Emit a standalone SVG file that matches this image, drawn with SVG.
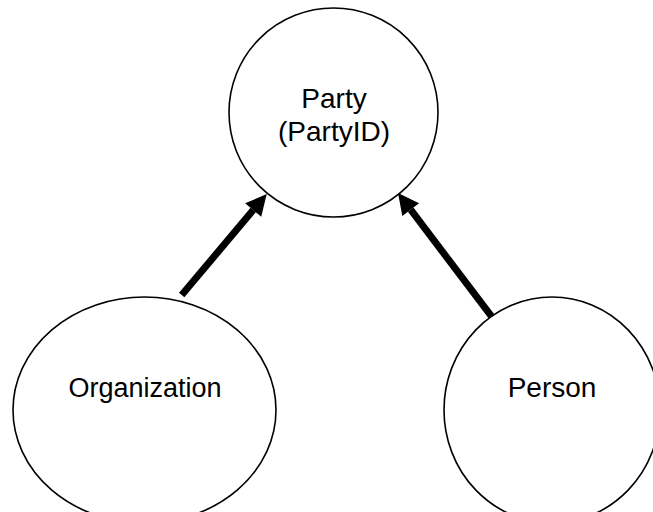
<svg xmlns="http://www.w3.org/2000/svg" width="653" height="512" viewBox="0 0 653 512">
  <style>
    .shape { fill: #ffffff; stroke: #000000; stroke-width: 1.6; }
    .label { font-family: "Liberation Sans", Arial, sans-serif; font-size: 28px; fill: #000000; text-anchor: middle; }
    .link { stroke: #000000; stroke-width: 7; fill: none; marker-end: url(#head); }
  </style>
  <defs>
    <marker id="head" markerUnits="strokeWidth" markerWidth="3" markerHeight="3" refX="0" refY="1.5" orient="auto" overflow="visible">
      <path d="M0,0 L3,1.5 L0,3 z" fill="#000000"/>
    </marker>
  </defs>
  <rect width="653" height="512" fill="#ffffff"/>

  <g id="party">
    <circle class="shape" cx="333.5" cy="112.5" r="104.5"/>
    <text class="label" x="334" y="108">Party</text>
    <text class="label" x="334" y="141">(PartyID)</text>
  </g>

  <g id="organization">
    <ellipse class="shape" cx="144.5" cy="410" rx="131.5" ry="113"/>
    <text class="label" x="145" y="397" style="font-size:27px">Organization</text>
  </g>

  <g id="person">
    <ellipse class="shape" cx="552" cy="410" rx="108" ry="113"/>
    <text class="label" x="552" y="397">Person</text>
  </g>

  <g id="connectors">
    <line class="link" x1="181.7" y1="295" x2="253.2" y2="210.1"/>
    <line class="link" x1="491.7" y1="316.7" x2="410.7" y2="209.7"/>
  </g>
</svg>
